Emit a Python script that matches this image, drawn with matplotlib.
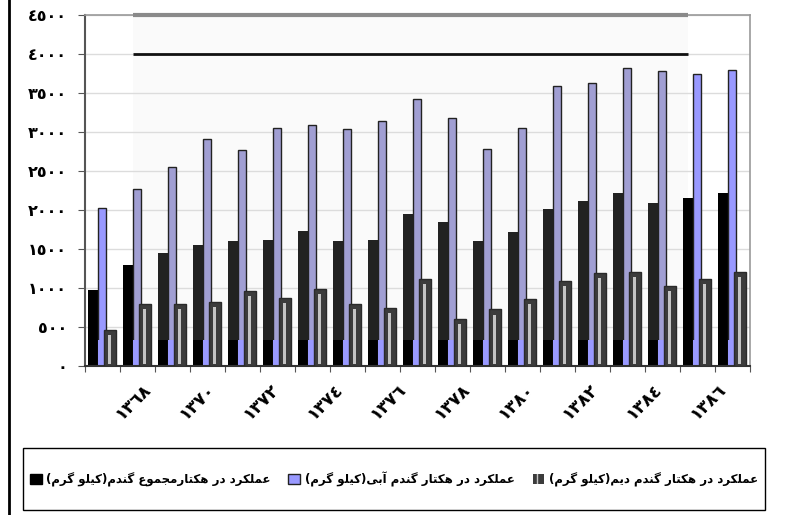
import numpy as np
import matplotlib
matplotlib.use('Agg')
import matplotlib.pyplot as plt
from matplotlib.patches import Patch, Rectangle
from matplotlib.lines import Line2D
from matplotlib.transforms import ScaledTranslation, blended_transform_factory

plt.rcParams['font.family'] = ['DejaVu Sans']
plt.rcParams['font.weight'] = 'bold'

# داده ها
years = list(range(1368, 1387))
total_yield = [975, 1295, 1450, 1545, 1600, 1615, 1735, 1600, 1615, 1950,
               1850, 1600, 1720, 2015, 2115, 2220, 2085, 2150, 2220]
irrigated_yield = [2030, 2265, 2550, 2905, 2770, 3055, 3085, 3040, 3135, 3425,
                   3185, 2785, 3055, 3590, 3625, 3825, 3780, 3745, 3790]
rainfed_yield = [460, 795, 795, 820, 960, 870, 985, 795, 740, 1115,
                 600, 725, 855, 1090, 1190, 1200, 1025, 1115, 1200]
y_ticks = list(range(0, 4501, 500))
legend_labels = ['عملکرد در هکتارمجموع گندم(کیلو گرم)',
                 'عملکرد در هکتار گندم آبی(کیلو گرم)',
                 'عملکرد در هکتار گندم دیم(کیلو گرم)']

# شکل دادن حروف فارسی (matplotlib خودش این کار را نمی کند)
FORMS = {
    'ا': ('\uFE8D', '\uFE8E', None, None),
    'آ': ('\uFE81', '\uFE82', None, None),
    'ب': ('\uFE8F', '\uFE90', '\uFE91', '\uFE92'),
    'ت': ('\uFE95', '\uFE96', '\uFE97', '\uFE98'),
    'ج': ('\uFE9D', '\uFE9E', '\uFE9F', '\uFEA0'),
    'د': ('\uFEA9', '\uFEAA', None, None),
    'ر': ('\uFEAD', '\uFEAE', None, None),
    'ع': ('\uFEC9', '\uFECA', '\uFECB', '\uFECC'),
    'ل': ('\uFEDD', '\uFEDE', '\uFEDF', '\uFEE0'),
    'م': ('\uFEE1', '\uFEE2', '\uFEE3', '\uFEE4'),
    'ن': ('\uFEE5', '\uFEE6', '\uFEE7', '\uFEE8'),
    'ه': ('\uFEE9', '\uFEEA', '\uFEEB', '\uFEEC'),
    'و': ('\uFEED', '\uFEEE', None, None),
    'ک': ('\uFB8E', '\uFB8F', '\uFB90', '\uFB91'),
    'گ': ('\uFB92', '\uFB93', '\uFB94', '\uFB95'),
    'ی': ('\uFBFC', '\uFBFD', '\uFBFE', '\uFBFF'),
}


def fa(s):
    out = []
    for i, c in enumerate(s):
        if c not in FORMS:
            out.append(c)
            continue
        prev = s[i - 1] if i > 0 else ''
        nxt = s[i + 1] if i + 1 < len(s) else ''
        join_prev = prev in FORMS and FORMS[prev][2] is not None
        join_next = FORMS[c][2] is not None and nxt in FORMS
        iso, fin, ini, med = FORMS[c]
        if join_prev and join_next:
            out.append(med)
        elif join_prev:
            out.append(fin)
        elif join_next:
            out.append(ini)
        else:
            out.append(iso)
    return ''.join(reversed(out)).translate(str.maketrans('()', ')('))


def digits(n):
    return str(n).translate(str.maketrans('0123456789', '٠١٢٣٤٥٦٧٨٩'))


W, H = 801, 515
fig = plt.figure(figsize=(W / 100, H / 100), dpi=100)
ax = fig.add_axes([85 / W, 1 - 366 / H, 665 / W, 351 / H])

x = np.arange(len(years))
total = np.array(total_yield)
irr = np.array(irrigated_yield)
rain = np.array(rainfed_yield)

# ناحیه کم رنگ (واترمارک اسکن)
wm_x0, wm_x1, wm_y0 = 0.87, 16.73, 330
ax.add_patch(Rectangle((wm_x0, wm_y0), wm_x1 - wm_x0, 4500 - wm_y0,
                       facecolor='#fafafa', edgecolor='none', zorder=0))

inside_k = (x >= 2) & (x <= 16)
inside_b = (x >= 1) & (x <= 16)
black_cols = np.where(inside_k, '#222222', '#000000')
blue_cols = np.where(inside_b, '#a19fd3', '#9999ff')

ax.bar(x - 0.28, total, width=0.29, color=black_cols, zorder=2)
ax.bar(x - 0.28, np.minimum(total, wm_y0), width=0.29, color='#000000', zorder=2)
ax.bar(x - 0.02, irr, width=0.24, color=blue_cols, edgecolor='#222222',
       linewidth=1, zorder=2)
ax.bar(x - 0.02, np.minimum(irr, wm_y0), width=0.22, color='#9999ff', zorder=2)
ax.bar(x + 0.21, rain, width=0.33, color='#3c3c3c', edgecolor='#2a2a2a',
       linewidth=1, zorder=3)
ax.bar(x + 0.21, rain - 90, bottom=25, width=0.08, color='#c4c4c4', zorder=4)

# خطوط اضافه بالای نمودار
ax.hlines(4500, wm_x0, wm_x1, color='#8a8a8a', linewidth=3, zorder=5, clip_on=False)
ax.hlines(4000, wm_x0, wm_x1, color='#111111', linewidth=2, zorder=5)

ax.set_xlim(-0.5, len(years) - 0.5)
ax.set_ylim(0, 4500)
ax.set_yticks(y_ticks, [digits(v) for v in y_ticks], fontsize=11.5)
ax.yaxis.grid(True, color='#dcdcdc', linewidth=1)
ax.set_axisbelow(True)
ax.tick_params(axis='y', direction='out', length=5, pad=8, color='#555555')

ax.set_xticks(np.arange(len(years) + 1) - 0.5, [''] * (len(years) + 1))
ax.tick_params(axis='x', direction='out', length=4, color='#555555')

# برچسب سال ها (چرخیده، مثل اکسل کمی جابجا)
lab_pos = np.linspace(0.072, 0.937, len(years[::2]))
trans = blended_transform_factory(ax.transAxes, ax.transAxes) + \
    ScaledTranslation(0, -0.35, fig.dpi_scale_trans)
for xf, yr in zip(lab_pos, years[::2]):
    ax.text(xf, 0, digits(yr), transform=trans, rotation=45, ha='center',
            va='center', rotation_mode='anchor', fontsize=12.5, fontweight='bold')

ax.spines['left'].set_color('#555555')
ax.spines['left'].set_linewidth(1.5)
ax.spines['bottom'].set_color('#333333')
ax.spines['bottom'].set_linewidth(1.5)
for s in ['top', 'right']:
    ax.spines[s].set_color('#999999')
    ax.spines[s].set_linewidth(1.2)

# خط کادر سمت چپ
fig.add_artist(Line2D([8.5 / W, 8.5 / W], [0, 1], color='black', linewidth=2))

# کادر راهنما
box = (23 / W, 5 / H, 742 / W, 62 / H)
fig.add_artist(Rectangle(box[:2], box[2], box[3], transform=fig.transFigure,
                         facecolor='white', edgecolor='black', linewidth=1))
handles = [Patch(facecolor='black', edgecolor='black'),
           Patch(facecolor='#9999ff', edgecolor='#222222'),
           Patch(facecolor='#3c3c3c', edgecolor='#c4c4c4', hatch='||', linewidth=0)]
leg = fig.legend(handles, [fa(t) for t in legend_labels], loc='center',
                 bbox_to_anchor=(box[0] + box[2] / 2, box[1] + box[3] / 2),
                 ncol=3, frameon=False, borderaxespad=0, borderpad=0,
                 columnspacing=1.5, handlelength=1.0, handleheight=1.0,
                 handletextpad=0.4, prop={'size': 8.5, 'weight': 'bold'})

plt.savefig('out.png', dpi=100)
